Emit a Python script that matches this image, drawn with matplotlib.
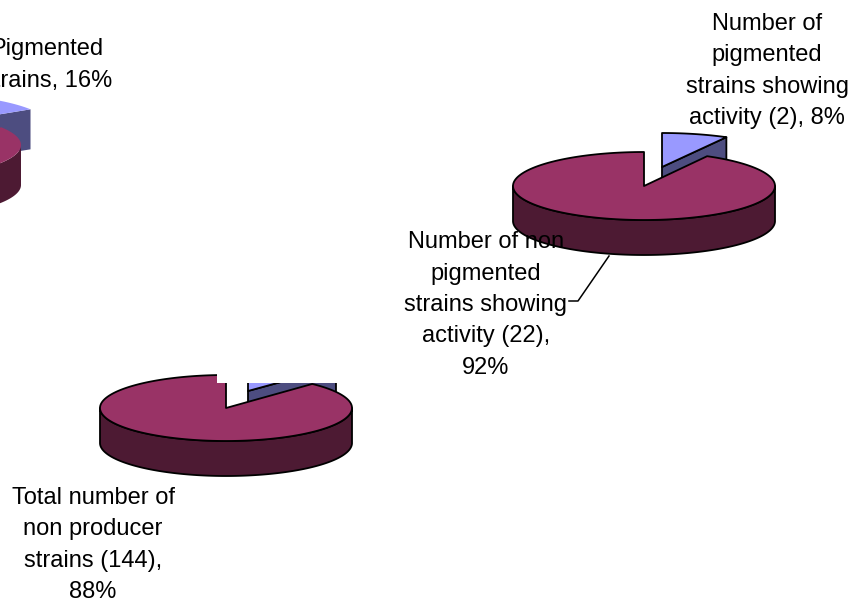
import numpy as np
import matplotlib
matplotlib.use("Agg")
import matplotlib.pyplot as plt
from matplotlib.patches import Polygon, Rectangle

plt.rcParams['font.family'] = ['Liberation Sans', 'DejaVu Sans']

# Share of each pie held by the pigmented (exploded) slice, in percent
pigmented_pct = [16, 8, 12]
other_pct = [84, 92, 88]

labels_pigmented = ["Pigmented\nstrains, 16%",
                    "Number of\npigmented\nstrains showing\nactivity (2), 8%"]
labels_other = ["Number of non\npigmented\nstrains showing\nactivity (22),\n92%",
                "Total number of\nnon producer\nstrains (144),\n88%"]

BLUE_TOP, BLUE_SIDE = "#9999FF", "#4D4D80"
MAROON_TOP, MAROON_SIDE = "#993366", "#4D1A33"

W, H = 859, 605
fig = plt.figure(figsize=(W / 100, H / 100), dpi=100)
ax = fig.add_axes([0, 0, 1, 1])
ax.set_xlim(0, W)
ax.set_ylim(H, 0)
ax.axis("off")


def rim(cx, cy, rx, ry, start, stop, n=240):
    # Points along the pie rim; angles run clockwise from twelve o'clock
    t = np.linspace(start, stop, n)
    return np.column_stack([cx + rx * np.sin(t), cy - ry * np.cos(t)])


def draw_pie(pct_small, pct_big, centre, radii, depth, offset, edge, z):
    cx, cy = centre
    rx, ry = radii
    dx, dy = offset
    total = pct_small + pct_big
    split = 2 * np.pi * pct_small / total
    style = dict(edgecolor=edge, linewidth=1.3 if edge != "none" else 0,
                 joinstyle="round")

    # Exploded slice: cut face first, then its top
    bx, by = cx + dx, cy + dy
    arc = rim(bx, by, rx * 1.02, ry, 0, split)
    far = arc[-1]
    face = [(bx, by), far, (far[0], far[1] + depth), (bx, by + depth)]
    ax.add_patch(Polygon(face, facecolor=BLUE_SIDE, zorder=z, **style))
    ax.add_patch(Polygon(np.vstack([[bx, by], arc]), facecolor=BLUE_TOP,
                         zorder=z + 0.1, **style))

    # Main slice: front wall, then top with the wedge cut out
    front = rim(cx, cy, rx, ry, np.pi / 2, 3 * np.pi / 2)
    wall = np.vstack([front, (front + [0, depth])[::-1]])
    ax.add_patch(Polygon(wall, facecolor=MAROON_SIDE, zorder=z + 0.2, **style))
    top = rim(cx, cy, rx, ry, split, 2 * np.pi)
    ax.add_patch(Polygon(np.vstack([[cx, cy], top]), facecolor=MAROON_TOP,
                         zorder=z + 0.3, **style))


draw_pie(pigmented_pct[0], other_pct[0], (-105, 145), (126, 33), 40, (27, -18), "none", 2)
draw_pie(pigmented_pct[1], other_pct[1], (644, 186), (131, 34), 35, (18, -19), "black", 2)
draw_pie(pigmented_pct[2], other_pct[2], (226, 408), (126, 33), 35, (22, -17), "black", 2)

# Blank label box lying over the upper part of the lower pie
ax.add_patch(Rectangle((217, 355), 130, 27.6, facecolor="white", edgecolor="none", zorder=3))

# Leader line for the "non pigmented" label
ax.plot([609, 578, 569], [256, 301, 301], color="black", lw=1.1, zorder=4)

text_style = dict(fontsize=17, ha="center", va="center", color="black",
                  linespacing=1.55, zorder=5)
ax.text(47, 65, labels_pigmented[0], **text_style)
ax.text(767, 71, labels_pigmented[1], **text_style)
ax.text(486, 305, labels_other[0], **text_style)
ax.text(93, 545, labels_other[1], **text_style)

fig.savefig("out.png", dpi=100)
